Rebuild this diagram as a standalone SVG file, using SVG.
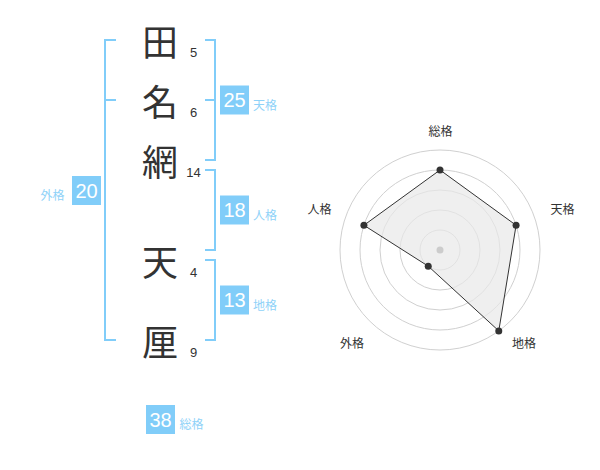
<svg xmlns="http://www.w3.org/2000/svg" width="600" height="470" viewBox="0 0 600 470">
<style>
.ch{font-family:"Noto Sans CJK JP","Noto Sans CJK SC",sans-serif;font-size:36px;fill:#333;text-anchor:middle;dominant-baseline:central}
.num{font-family:"Liberation Sans",Arial,sans-serif;font-size:13px;fill:#333;text-anchor:middle}
.br{fill:none;stroke:#81cdf9;stroke-width:2}
.box{fill:#81cdf9}
.bt{font-family:"Liberation Sans",Arial,sans-serif;font-size:20px;fill:#fff;text-anchor:middle;dominant-baseline:central}
.lb{font-family:"Noto Sans CJK JP","Noto Sans CJK SC",sans-serif;font-size:12px;fill:#8fd2f8;dominant-baseline:central}
.rl{font-family:"Noto Sans CJK JP","Noto Sans CJK SC",sans-serif;font-size:12px;fill:#333;text-anchor:middle;dominant-baseline:central}
.ring{fill:none;stroke:#d0d0d0;stroke-width:1}
.pt{fill:#333}
</style>
<rect width="600" height="470" fill="#fff"/>
<g id="chars">
<g id="c1"><text class="ch" x="160" y="40">田</text><text class="num" x="193.5" y="57">5</text></g>
<g id="c2"><text class="ch" x="160" y="100">名</text><text class="num" x="193.5" y="117">6</text></g>
<g id="c3"><text class="ch" x="160" y="160">網</text><text class="num" x="193.5" y="177">14</text></g>
<g id="c4"><text class="ch" x="160" y="260">天</text><text class="num" x="193.5" y="277">4</text></g>
<g id="c5"><text class="ch" x="160" y="340">厘</text><text class="num" x="193.5" y="357">9</text></g>
</g>
<g id="connectors">
<path class="br" d="M116,40 H105 V340 H116 M105,100 H116"/>
<path class="br" d="M205,40 H215 V160 H205 M215,100 H205"/>
<path class="br" d="M205,170 H215 V250 H205"/>
<path class="br" d="M205,260 H215 V340 H205"/>
</g>
<g id="tenkaku"><rect class="box" x="220" y="85.5" width="29" height="29"/><text class="bt" x="234.5" y="100">25</text><text class="lb" x="253" y="104">天格</text></g>
<g id="jinkaku"><rect class="box" x="220" y="195.5" width="29" height="29"/><text class="bt" x="234.5" y="210">18</text><text class="lb" x="253" y="214">人格</text></g>
<g id="chikaku"><rect class="box" x="220" y="285.5" width="29" height="29"/><text class="bt" x="234.5" y="300">13</text><text class="lb" x="253" y="304">地格</text></g>
<g id="gaikaku"><rect class="box" x="72" y="176" width="29" height="29"/><text class="bt" x="86.5" y="190.5">20</text><text class="lb" x="40.5" y="194">外格</text></g>
<g id="soukaku"><rect class="box" x="146" y="405" width="29" height="29"/><text class="bt" x="160.5" y="419.5">38</text><text class="lb" x="179.5" y="423">総格</text></g>
<g id="radar">
<circle class="ring" cx="440" cy="250" r="20"/>
<circle class="ring" cx="440" cy="250" r="40"/>
<circle class="ring" cx="440" cy="250" r="60"/>
<circle class="ring" cx="440" cy="250" r="80"/>
<circle class="ring" cx="440" cy="250" r="100"/>
<polygon points="440,170 516.08,225.28 498.78,330.9 428.24,266.18 363.92,225.28" fill="#e8e8e8" fill-opacity="0.7" stroke="#333" stroke-width="1"/>
<circle cx="440" cy="250" r="3.5" fill="#ccc"/>
<circle class="pt" cx="440" cy="170" r="3.5"/>
<circle class="pt" cx="516.08" cy="225.28" r="3.5"/>
<circle class="pt" cx="498.78" cy="330.9" r="3.5"/>
<circle class="pt" cx="428.24" cy="266.18" r="3.5"/>
<circle class="pt" cx="363.92" cy="225.28" r="3.5"/>
<text class="rl" x="440.5" y="130.5">総格</text>
<text class="rl" x="562.5" y="208.5">天格</text>
<text class="rl" x="524" y="342.5">地格</text>
<text class="rl" x="352" y="342.5">外格</text>
<text class="rl" x="319.5" y="208.5">人格</text>
</g>
</svg>
